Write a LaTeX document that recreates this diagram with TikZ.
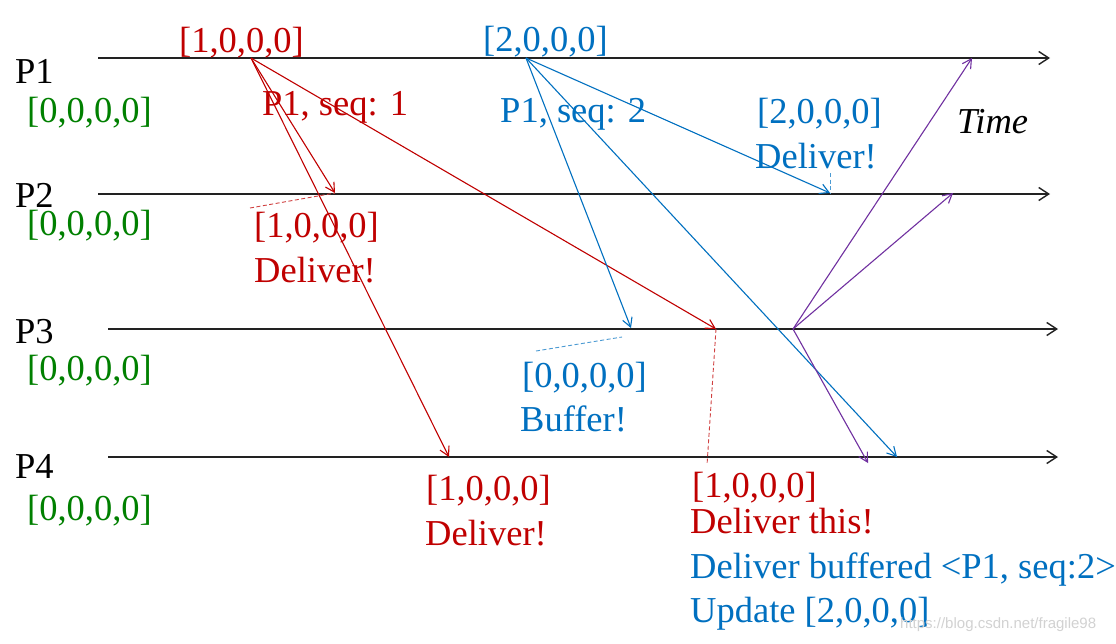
\documentclass[tikz,border=0pt]{standalone}
\usepackage{fontspec}
\setmainfont{Liberation Serif}
\newfontfamily\wmfont{Liberation Sans}
\usetikzlibrary{arrows.meta}
\definecolor{cred}{HTML}{C00000}
\definecolor{cblue}{HTML}{0070C0}
\definecolor{cgreen}{HTML}{008000}
\definecolor{cpurple}{HTML}{7030A0}
\definecolor{caxis}{HTML}{222222}
\tikzset{
  lbl/.style={anchor=base west,inner sep=0pt,font=\fontsize{36.5}{44}\selectfont},
  plbl/.style={lbl,text=black},
  timeaxis/.style={draw=caxis,line width=1.8pt,-{Straight Barb[length=10pt,width=13pt,line width=1.4pt]}},
  msg/.style={line width=1.1pt,-{Straight Barb[length=9pt,width=10pt,line width=1.1pt]}},
  redmsg/.style={msg,draw=cred},
  bluemsg/.style={msg,draw=cblue},
  purplemsg/.style={msg,draw=cpurple},
  hint/.style={line width=0.9pt,dash pattern=on 4pt off 2.5pt},
}
\begin{document}
\begin{tikzpicture}[x=1pt,y=-1pt]
\useasboundingbox[fill=white] (0,0) rectangle (1116,643);
% time axes
\coordinate (a1s) at (98,58);  \coordinate (a1e) at (1050,58);
\coordinate (a2s) at (98,194); \coordinate (a2e) at (1050,194);
\coordinate (a3s) at (108,329); \coordinate (a3e) at (1058,329);
\coordinate (a4s) at (108,457); \coordinate (a4e) at (1058,457);
\draw[timeaxis] (a1s) -- (a1e);
\draw[timeaxis] (a2s) -- (a2e);
\draw[timeaxis] (a3s) -- (a3e);
\draw[timeaxis] (a4s) -- (a4e);
% process labels
\node[plbl] (p1) at (15,83) {P1};
\node[plbl] (p2) at (15,207) {P2};
\node[plbl] (p3) at (15,343) {P3};
\node[plbl] (p4) at (15,478) {P4};
\node[lbl,text=cgreen] (g1) at (27,122) {[0,0,0,0]};
\node[lbl,text=cgreen] (g2) at (27,235) {[0,0,0,0]};
\node[lbl,text=cgreen] (g3) at (27,380) {[0,0,0,0]};
\node[lbl,text=cgreen] (g4) at (27,520) {[0,0,0,0]};
% event points
\coordinate (s1) at (251,58);
\coordinate (s2) at (526,58);
\coordinate (r1p2) at (335,193);
\coordinate (r1p3) at (716,329);
\coordinate (r1p4) at (449,457);
\coordinate (b2p2) at (830,193);
\coordinate (b2p3) at (631,328);
\coordinate (b2p4) at (897,457);
\coordinate (pp) at (793,329);
\coordinate (pp1) at (972,58);
\coordinate (pp2) at (953,193);
\coordinate (pp4) at (868,463);
% red messages
\draw[redmsg] (s1) -- (r1p2);
\draw[redmsg] (s1) -- (r1p4);
\draw[redmsg] (s1) -- (r1p3);
% blue messages
\draw[bluemsg] (s2) -- (b2p2);
\draw[bluemsg] (s2) -- (b2p3);
\draw[bluemsg] (s2) -- (b2p4);
% purple messages
\draw[purplemsg] (pp) -- (pp1);
\draw[purplemsg] (pp) -- (pp2);
\draw[purplemsg] (pp) -- (pp4);
% dashed hints
\coordinate (h1) at (250,208);
\draw[hint,draw=cred!75] (h1) -- (r1p2);
\coordinate (h2) at (830,173);
\draw[hint,draw=cblue!70] (h2) -- (b2p2);
\coordinate (h3a) at (536,351); \coordinate (h3b) at (622,337);
\draw[hint,draw=cblue!70] (h3a) -- (h3b);
\coordinate (h4) at (707,465);
\draw[hint,draw=cred!75] (r1p3) -- (h4);
% labels
\node[lbl,text=cred] (t1) at (179,52) {[1,0,0,0]};
\node[lbl,text=cblue] (t2) at (483,51) {[2,0,0,0]};
\node[lbl,text=cred] (seq1) at (262,115) {P1, seq: 1};
\node[lbl,text=cblue] (seq2) at (500,122) {P1, seq: 2};
\node[lbl,text=cred] (d2a) at (254,237) {[1,0,0,0]};
\node[lbl,text=cred] (d2b) at (254,282) {Deliver!};
\node[lbl,text=cblue] (e2a) at (757,123) {[2,0,0,0]};
\node[lbl,text=cblue] (e2b) at (755,168) {Deliver!};
\node[lbl,text=black,font=\fontsize{36.5}{44}\selectfont\itshape] (time) at (957,133) {Time};
\node[lbl,text=cblue] (b3a) at (522,387) {[0,0,0,0]};
\node[lbl,text=cblue] (b3b) at (520,431) {Buffer!};
\node[lbl,text=cred] (d4a) at (426,500) {[1,0,0,0]};
\node[lbl,text=cred] (d4b) at (425,545) {Deliver!};
\node[lbl,text=cred] (d3a) at (692,497) {[1,0,0,0]};
\node[lbl,text=cred] (d3b) at (690,533) {Deliver this!};
\node[lbl,text=cblue] (d3c) at (690,578) {Deliver buffered <P1, seq:2>};
\node[lbl,text=cblue] (d3d) at (690,622) {Update [2,0,0,0]};
\node[anchor=base west,inner sep=0pt,font=\wmfont\fontsize{15}{18}\selectfont,text=gray!35] (wm) at (900,628) {https://blog.csdn.net/fragile98};
\end{tikzpicture}
\end{document}
